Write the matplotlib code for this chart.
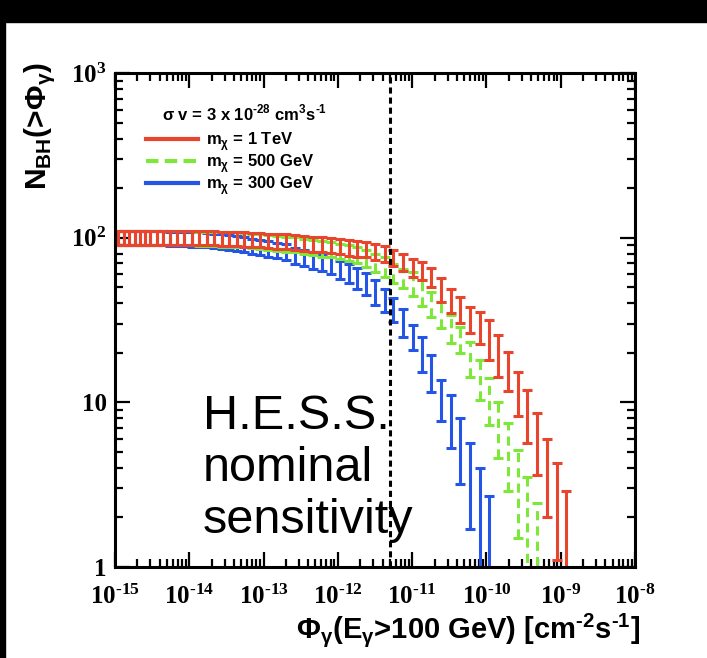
import numpy as np
import matplotlib.pyplot as plt
from matplotlib.ticker import LogLocator, FuncFormatter, NullFormatter
from matplotlib.patches import Rectangle
from matplotlib.lines import Line2D

# flux bins, log10(Phi) [cm^-2 s^-1]
log_phi = [-14.96, -14.88, -14.81, -14.73, -14.66, -14.60, -14.53, -14.43, -14.35, -14.26,
           -14.17, -14.07, -13.96, -13.87, -13.76, -13.67, -13.56, -13.47, -13.36, -13.26,
           -13.16, -13.05, -12.94, -12.82, -12.70, -12.58, -12.46, -12.33, -12.21, -12.09,
           -11.97, -11.85, -11.74, -11.62, -11.50, -11.37, -11.26, -11.12, -10.99, -10.87,
           -10.75, -10.61, -10.48, -10.36, -10.22, -10.09, -9.97, -9.84, -9.71, -9.58,
           -9.45, -9.32, -9.18, -9.05, -8.93]

# m = 1 TeV
n_1tev = [100, 100, 100, 100, 100, 100, 100, 100, 100, 100, 100, 100, 100, 100, 100, 100,
          99, 99, 99, 98,
          97, 97, 96, 95, 95, 94, 93, 92, 91, 90,
          89, 87, 86, 85, 82, 80, 76, 71, 66, 63,
          58, 49, 42, 37, 32, 29, 25, 20, 16, 11.8,
          8.8, 6.1, 4.0, 2.7, 1.5]
err_1tev = [10, 10, 10, 10, 10, 10, 10, 10, 10, 10, 10, 10, 10, 10, 10, 10, 10, 10, 10, 10,
            9.8, 9.8, 9.8, 9.7, 9.7, 9.7, 9.6, 9.6, 9.5, 9.5,
            9.4, 9.3, 9.3, 9.2, 9.1, 9.0, 8.7, 8.4, 8.1, 7.9,
            7.6, 8.1, 7.0, 6.6, 5.8, 6.5, 6.8, 5.7, 4.3, 3.5,
            3.1, 2.5, 2.0, 1.6, 1.4]

# m = 500 GeV
n_500 = [100, 100, 100, 100, 100, 100, 100, 100, 100, 100, 100, 100, 100, 99, 99, 99, 98, 98, 98,
         97, 96, 95, 94, 93, 92, 91, 89, 88, 86,
         85, 83, 81, 79, 75, 71, 67, 61, 57, 53,
         47, 40, 34.5, 28.4, 24.3, 18.8, 14.2, 10.7, 7.3, 5.2,
         3.3, 2.1, 1.4]
err_500 = [10, 10, 10, 10, 10, 10, 10, 10, 10, 10, 10, 10, 10, 10, 10, 10, 10, 10, 10,
           9.8, 9.8, 9.7, 9.7, 9.6, 9.6, 9.5, 9.4, 9.4, 9.3,
           9.2, 9.1, 9.0, 8.8, 8.9, 9.0, 9.0, 8.0, 7.5, 9.0,
           8.7, 6.9, 6.2, 5.5, 4.4, 4.5, 3.9, 3.4, 2.7, 2.3,
           1.8, 1.4, 1.05]

# m = 300 GeV
n_300 = [100, 100, 100, 100, 100, 100, 100, 100, 100, 99, 99, 99, 98,
         98, 97, 96, 95, 94, 93, 91,
         89, 88, 86, 84, 82, 78, 76, 73, 71, 68,
         64, 61, 57, 53, 47, 42, 37, 31, 25, 20,
         15.5, 10.7, 8.2, 5.6, 3.7, 2.4, 1.5]
err_300 = [10, 10, 10, 10, 10, 10, 10, 10, 10, 10, 10, 10, 10,
           9.9, 9.8, 9.8, 9.7, 9.7, 9.6, 9.5,
           9.4, 9.4, 9.3, 9.2, 9.0, 8.8, 8.7, 8.5, 8.4, 8.2,
           8.0, 7.8, 8.0, 8.0, 8.0, 6.6, 6.3, 5.9, 4.3, 4.8,
           4.0, 3.0, 2.9, 2.4, 2.0, 1.6, 1.2]

hess_sens = 5e-12

c_red = '#e8452c'
c_green = '#7ee83a'
c_blue = '#2455e6'

HY = '\u2010'  # short hyphen for exponents, like the original

plt.rcParams['font.family'] = ['Liberation Sans', 'DejaVu Sans']
plt.rcParams['font.weight'] = 'bold'
plt.rcParams['axes.unicode_minus'] = False

fig = plt.figure(figsize=(7.07, 6.58), dpi=100)
fig.add_artist(Rectangle((0, 1 - 22 / 658), 1, 22 / 658, transform=fig.transFigure,
                         color='black', zorder=0))
fig.add_artist(Rectangle((0, 0), 5 / 707, 1, transform=fig.transFigure,
                         color='black', zorder=0))

ax = fig.add_axes([115 / 707, 91 / 658, 520 / 707, 494 / 658])
ax.set_xscale('log')
ax.set_yscale('log')
ax.set_xlim(1e-15, 1e-8)
ax.set_ylim(1, 1000)

phi = 10 ** np.array(log_phi)

series = [
    (n_300, err_300, c_blue, '-'),
    (n_500, err_500, c_green, (0, (3, 2))),
    (n_1tev, err_1tev, c_red, '-'),
]
for n, err, col, ls in series:
    x = phi[:len(n)]
    eb = ax.errorbar(x, n, yerr=err, fmt='none', ecolor=col, elinewidth=2.2,
                     capsize=3.5, capthick=2.2)
    eb.lines[2][0].set_linestyle(ls)

ax.axvline(hess_sens, color='black', lw=2.2, ls=(0, (2, 1.3)), zorder=5)

ax.text(0.169, 0.35, 'H.E.S.S.\nnominal\nsensitivity', transform=ax.transAxes,
        fontsize=35, fontweight='normal', va='top', ha='left', linespacing=1.2,
        zorder=6)

# legend
ax.text(0.09, 0.918,
        r'σ v = 3 x 10$^{\mathdefault{%s28}}$ cm$^{\mathdefault{3}}$s$^{\mathdefault{%s1}}$' % (HY, HY),
        transform=ax.transAxes, fontsize=12, va='center', ha='left')
handles = [
    Line2D([], [], color=c_red, lw=3, ls='-'),
    Line2D([], [], color=c_green, lw=3, ls=(0, (3, 1.5))),
    Line2D([], [], color=c_blue, lw=3, ls='-'),
]
labels = [r'm$_{\mathdefault{χ}}$ = 1 TeV', r'm$_{\mathdefault{χ}}$ = 500 GeV',
          r'm$_{\mathdefault{χ}}$ = 300 GeV']
ax.legend(handles, labels, loc='upper left', bbox_to_anchor=(0.06, 0.885), frameon=False,
          fontsize=12, handlelength=3.1, handletextpad=0.5, labelspacing=-0.05,
          borderpad=0, borderaxespad=0)

# axes style
for s in ax.spines.values():
    s.set_linewidth(2.2)
ax.xaxis.set_major_locator(LogLocator(base=10, numticks=12))
ax.xaxis.set_minor_locator(LogLocator(base=10, subs=np.arange(2, 10), numticks=12))
ax.yaxis.set_major_locator(LogLocator(base=10, numticks=12))
ax.yaxis.set_minor_locator(LogLocator(base=10, subs=np.arange(2, 10), numticks=12))
ax.xaxis.set_minor_formatter(NullFormatter())
ax.yaxis.set_minor_formatter(NullFormatter())


def exp_label(v):
    e = round(np.log10(v))
    s = str(e).replace('-', HY)
    return r'$\mathdefault{10^{%s}}$' % s


ax.xaxis.set_major_formatter(FuncFormatter(lambda v, p: exp_label(v)))
ax.yaxis.set_major_formatter(FuncFormatter(
    lambda v, p: {1: '1', 10: '10'}.get(round(v), exp_label(v))))
ax.tick_params(which='both', direction='in', top=True, right=True, width=1.6,
               labelsize=18, labelfontfamily='Liberation Serif')
ax.tick_params(which='major', length=11)
ax.tick_params(which='minor', length=5.5)
ax.tick_params(axis='x', pad=13)
ax.tick_params(axis='y', pad=6)

ax.set_xlabel(r'Φ$_{\mathdefault{γ}}$(E$_{\mathdefault{γ}}$>100 GeV) [cm$^{\mathdefault{%s2}}$s$^{\mathdefault{%s1}}$]' % (HY, HY),
              fontsize=21, fontweight='bold', loc='right')
ax.xaxis.set_label_coords(1.01, -0.09)
ax.set_ylabel(r'N$_{\mathdefault{BH}}$(>Φ$_{\mathdefault{γ}}$)', fontsize=21.5,
              fontweight='bold', loc='top')
ax.yaxis.set_label_coords(-0.112, 1.022)

fig.savefig('out.png', dpi=100)
